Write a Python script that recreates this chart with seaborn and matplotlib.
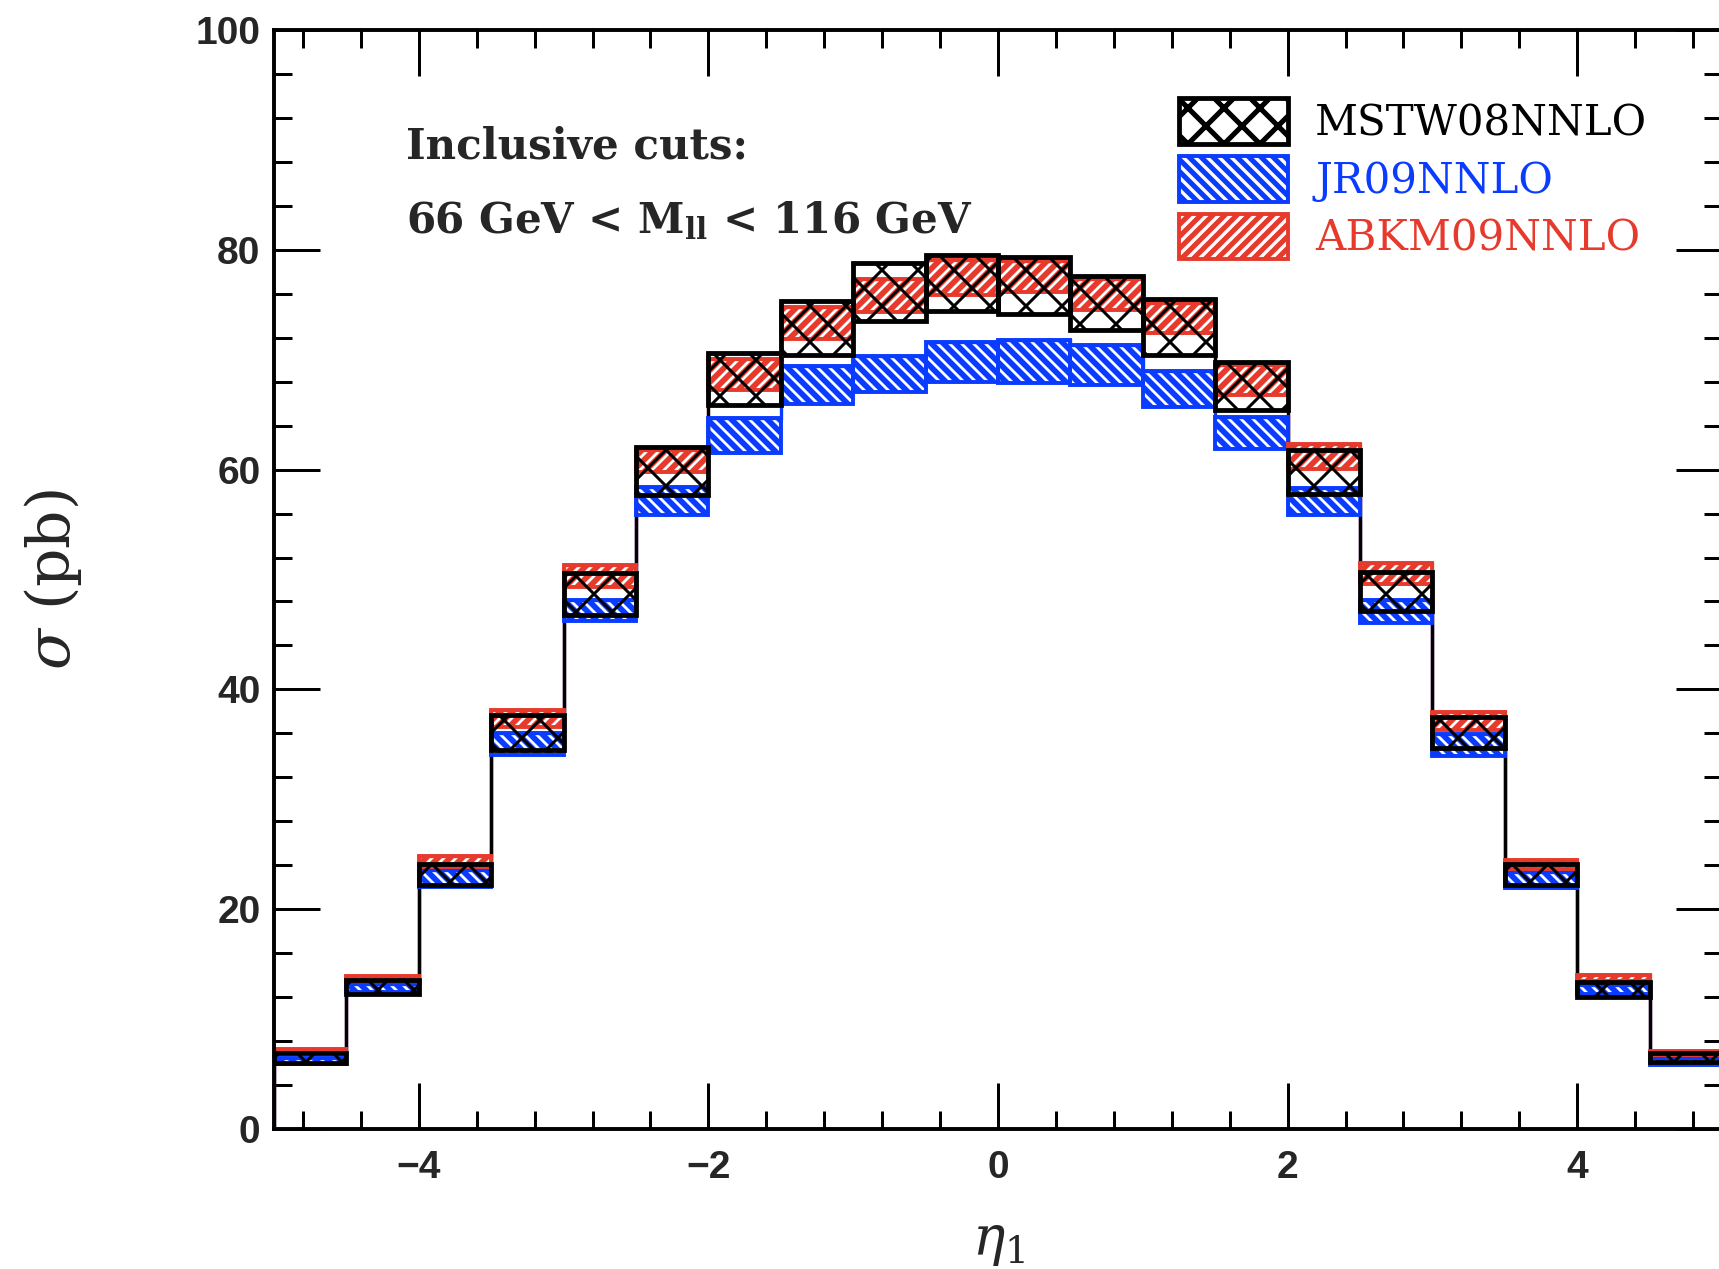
import numpy as np
import seaborn as sns
import matplotlib.pyplot as plt
from matplotlib.patches import Patch
from matplotlib.ticker import MultipleLocator

# bin centres of the eta_1 histogram (width 0.5)
eta_centres = [-4.75, -4.25, -3.75, -3.25, -2.75, -2.25, -1.75, -1.25, -0.75, -0.25,
               0.25, 0.75, 1.25, 1.75, 2.25, 2.75, 3.25, 3.75, 4.25, 4.75]
eta_edges = [-5.0, -4.5, -4.0, -3.5, -3.0, -2.5, -2.0, -1.5, -1.0, -0.5, 0.0,
             0.5, 1.0, 1.5, 2.0, 2.5, 3.0, 3.5, 4.0, 4.5, 5.0]

# PDF uncertainty bands (pb): lower and upper edge per bin
mstw_lo = [6.0, 12.3, 22.2, 34.5, 46.8, 57.7, 65.9, 70.4, 73.5, 74.4,
           74.2, 72.7, 70.4, 65.4, 57.8, 47.1, 34.7, 22.2, 12.0, 6.1]
mstw_hi = [6.9, 13.6, 24.1, 37.7, 50.6, 62.1, 70.6, 75.3, 78.8, 79.5,
           79.3, 77.6, 75.5, 69.8, 61.8, 50.7, 37.5, 24.1, 13.4, 6.9]

jr_lo = [5.9, 12.5, 22.0, 34.0, 46.2, 55.9, 61.5, 66.0, 67.1, 68.0,
         67.9, 67.7, 65.7, 61.9, 55.9, 46.0, 33.9, 21.9, 12.3, 5.8]
jr_hi = [6.5, 13.2, 23.6, 36.0, 48.1, 58.4, 64.7, 69.4, 70.3, 71.6,
         71.8, 71.3, 69.0, 64.8, 58.3, 48.1, 35.9, 23.4, 13.1, 6.5]

abkm_lo = [6.9, 13.5, 23.8, 36.6, 49.3, 59.8, 67.2, 71.9, 74.3, 75.9,
           76.2, 74.5, 72.4, 66.8, 60.1, 49.6, 36.3, 23.7, 13.5, 6.7]
abkm_hi = [7.3, 13.9, 24.8, 38.1, 51.3, 61.8, 70.1, 74.8, 77.3, 79.1,
           79.0, 77.3, 75.2, 69.5, 62.3, 51.5, 37.9, 24.5, 14.0, 7.1]

labels = ["MSTW08NNLO", "JR09NNLO", "ABKM09NNLO"]
BLACK = "#000000"
BLUE = "#0a3cff"
RED = "#e63a2c"

# the hatch cell follows the dpi, so pick the dpi for the hatch spacing
# and scale every size (given for 216 dpi) by S
DPI = 108
S = 216 / DPI

sns.set_style("ticks")
plt.rcParams["font.family"] = ["DejaVu Serif"]
plt.rcParams["mathtext.fontset"] = "dejavuserif"
plt.rcParams["hatch.linewidth"] = 3.4

fig = plt.figure(figsize=(1719 / DPI, 1269 / DPI), dpi=DPI)
ax = fig.add_axes([274 / 1719, 140 / 1269, 1448 / 1719, 1099 / 1269])

# (lower, upper, colour, hatch, edge width, hatch width)
bands = [
    (jr_lo, jr_hi, BLUE, "\\\\\\", 1.3, 3.8),
    (abkm_lo, abkm_hi, RED, "///", 1.3, 3.8),
    (mstw_lo, mstw_hi, BLACK, "x", 1.6, 2.0),
]

# outline histograms (the connecting verticals)
for lo, hi, col, hatch, lw, hlw in bands:
    ax.stairs(hi, eta_edges, baseline=0, color=col, lw=1.1 * S, zorder=1)

for i, (lo, hi, col, hatch, lw, hlw) in enumerate(bands):
    lo = np.array(lo)
    hi = np.array(hi)
    sns.barplot(x=eta_centres, y=hi - lo, bottom=lo, native_scale=True, width=1,
                errorbar=None, fill=False, color=col, hatch=hatch, linewidth=lw * S,
                zorder=2 + i, ax=ax)
    for p in ax.containers[-1]:
        p.set_edgecolor(col)
        if hasattr(p, "set_hatch_linewidth"):
            p.set_hatch_linewidth(hlw)

ax.set_xlim(-5, 5)
ax.set_ylim(0, 100)
ax.xaxis.set_major_locator(MultipleLocator(2))
ax.xaxis.set_minor_locator(MultipleLocator(0.4))
ax.yaxis.set_major_locator(MultipleLocator(20))
ax.yaxis.set_minor_locator(MultipleLocator(4))
ax.tick_params(which="both", direction="in", top=True, right=True, width=1.0 * S, color="black")
ax.tick_params(which="major", length=15.3 * S)
ax.tick_params(which="minor", length=6 * S)
ax.tick_params(axis="y", which="major", pad=4.5 * S)
ax.tick_params(axis="x", which="major", pad=7 * S)
for lab in ax.get_xticklabels() + ax.get_yticklabels():
    lab.set_family("Liberation Sans")
    lab.set_fontweight("bold")
    lab.set_fontsize(13 * S)
for sp in ax.spines.values():
    sp.set_linewidth(1.3 * S)
    sp.set_color("black")
    sp.set_zorder(10)

ax.set_xlabel(r"$\eta_1$", fontsize=18 * S)
ax.set_ylabel(r"$\sigma$ (pb)", fontsize=20 * S)
ax.xaxis.set_label_coords(0.5, -0.079)
ax.yaxis.set_label_coords(-0.131, 0.5)

ax.text(-4.09, 88.3, "Inclusive cuts:", fontsize=14 * S, fontweight="bold")
ax.text(-4.09, 81.5, r"66 GeV < M$_{\mathbf{ll}}$ < 116 GeV", fontsize=14 * S, fontweight="bold")

order = [bands[2], bands[0], bands[1]]
handles = []
for lo, hi, c, h, lw, hlw in order:
    hdl = Patch(facecolor="none", edgecolor=c, hatch=h, linewidth=lw * S)
    if hasattr(hdl, "set_hatch_linewidth"):
        hdl.set_hatch_linewidth(hlw)
    handles.append(hdl)
leg = ax.legend(handles, labels, loc="upper left", bbox_to_anchor=(0.6247, 0.938),
                frameon=False, fontsize=14 * S, handlelength=2.6, handleheight=1.3,
                labelspacing=0.28, handletextpad=0.65, borderpad=0, borderaxespad=0)
for txt, c in zip(leg.get_texts(), [BLACK, BLUE, RED]):
    txt.set_color(c)

fig.savefig("out.png", dpi=DPI)
